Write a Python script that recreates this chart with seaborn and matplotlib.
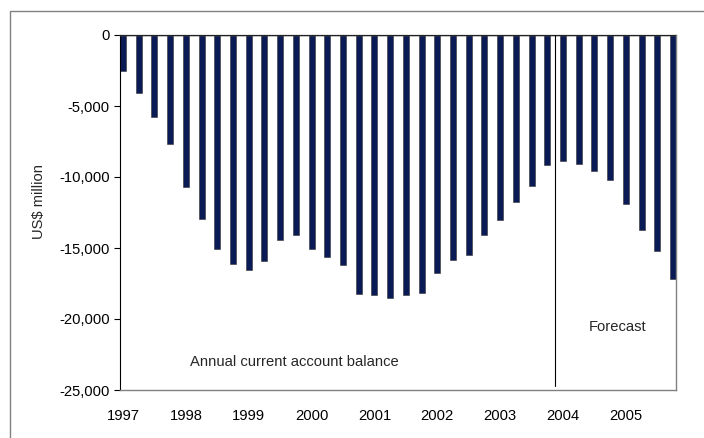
import numpy as np
import pandas as pd
import matplotlib
matplotlib.use("Agg")
import matplotlib.pyplot as plt
import seaborn as sns
from matplotlib.ticker import FuncFormatter
from matplotlib.patches import Rectangle

# Quarterly current account balance, US$ million (1997 Q1 .. 2005 Q4)
years = [1997, 1998, 1999, 2000, 2001, 2002, 2003, 2004, 2005]
quarters = ["Q1", "Q2", "Q3", "Q4"]
balance = [
    -2550, -4050, -5750, -7680,        # 1997
    -10700, -12960, -15070, -16100,    # 1998
    -16550, -15940, -14440, -14060,    # 1999
    -15070, -15610, -16200, -18240,    # 2000
    -18290, -18500, -18290, -18140,    # 2001
    -16740, -15850, -15520, -14110,    # 2002
    -13050, -11740, -10630, -9180,     # 2003
    -8900, -9080, -9580, -10210,       # 2004 (forecast)
    -11930, -13760, -15240, -17200,    # 2005 (forecast)
]

df = pd.DataFrame({
    "period": [f"{y} {q}" for y in years for q in quarters],
    "balance": balance,
})
df["pos"] = np.arange(len(df))

sns.set_theme(style="white")
plt.rcParams["font.family"] = ["Liberation Sans", "DejaVu Sans"]
FS = 10.6

fig = plt.figure(figsize=(7.04, 4.38), dpi=100)
ax = fig.add_axes([120 / 704, 1 - 390 / 438, 556 / 704, 355 / 438])

sns.barplot(data=df, x="pos", y="balance", color="#0a1a55", width=0.38,
            edgecolor="#333333", linewidth=0.4, saturation=1, ax=ax)

ax.set_xlim(-0.19, len(df) - 1 + 0.19)
ax.set_ylim(-25000, 0)

# year labels at the first quarter of each year
ax.set_xticks([i * 4 for i in range(len(years))])
ax.set_xticklabels([str(y) for y in years], fontsize=FS, color="#000000")
ax.tick_params(axis="x", length=0, pad=14)

ax.set_yticks(np.arange(-25000, 1, 5000))
ax.yaxis.set_major_formatter(FuncFormatter(lambda v, p: f"{int(v):,}"))
ax.tick_params(axis="y", length=4, width=0.8, direction="out", labelsize=FS,
               colors="#000000", left=True)
ax.set_xlabel("")
ax.set_ylabel("US$ million", fontsize=FS)
ax.yaxis.set_label_coords(-74 / 556, 0.53)

for side in ["top", "right", "bottom"]:
    ax.spines[side].set_color("#808080")
    ax.spines[side].set_linewidth(1)
ax.spines["left"].set_color("#000000")
ax.spines["left"].set_linewidth(0.8)
ax.axhline(0, color="#222222", lw=1, zorder=3)

# forecast divider
ax.plot([27.5, 27.5], [0, -24700], color="#000000", lw=0.8, zorder=3)

ax.text(4.26, -23000, "Annual current account balance", fontsize=FS,
        va="center", ha="left")
ax.text(29.66, -20560, "Forecast", fontsize=FS, va="center", ha="left")

# outer chart frame (partially cropped)
fig.patches.append(Rectangle((10 / 704, -0.1), 1.1, 1 - 11 / 438 + 0.1,
                             transform=fig.transFigure, fill=False,
                             edgecolor="#808080", lw=1))

fig.savefig("out.png", dpi=100)
